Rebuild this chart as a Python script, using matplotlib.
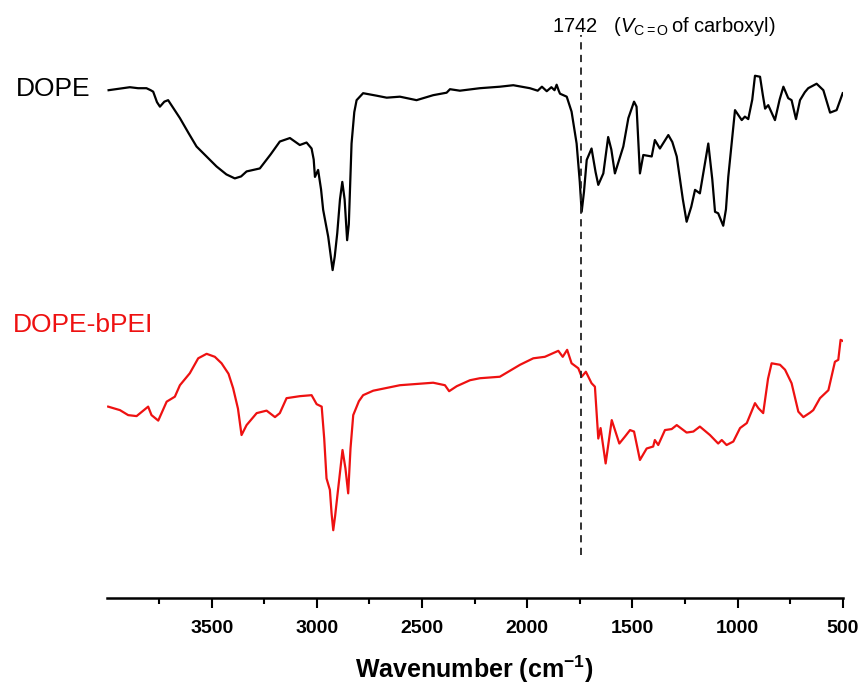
import matplotlib
matplotlib.use('Agg')
from matplotlib import pyplot as plt

plt.rcParams['font.family'] = ['Liberation Sans', 'DejaVu Sans']
plt.rcParams['mathtext.fontset'] = 'custom'
plt.rcParams['mathtext.rm'] = 'Liberation Sans'
plt.rcParams['mathtext.it'] = 'Liberation Sans:italic'
plt.rcParams['mathtext.bf'] = 'Liberation Sans:bold'

# DOPE spectrum (wavenumber, transmittance a.u. with offset)
wn_dope = [3990, 3940, 3889, 3850, 3810, 3790, 3778, 3760, 3746, 3725, 3707, 3690, 3651,
           3610, 3572, 3520, 3477, 3430, 3390, 3360, 3334, 3271, 3220,
           3176, 3128, 3081, 3049, 3025, 3015, 3009, 2994, 2980, 2970, 2946, 2935, 2925, 2915, 2903,
           2890, 2879, 2868, 2856, 2848, 2835, 2822, 2811, 2780, 2716, 2668, 2605, 2526, 2447, 2383,
           2367, 2320, 2225, 2130, 2066, 1987, 1950, 1930, 1907, 1885, 1870, 1860, 1850, 1844,
           1812, 1789, 1765, 1750, 1741, 1730, 1717, 1694, 1675, 1662, 1638, 1615, 1600, 1583, 1543,
           1519, 1492, 1480, 1464, 1448, 1408, 1393, 1369, 1329, 1310, 1289, 1260, 1242, 1220, 1202,
           1179, 1160, 1139, 1120, 1107, 1092, 1068, 1055, 1044, 1012, 980, 965, 949, 930, 917, 893, 880,
           869, 854, 822, 800, 782, 759, 743, 722, 703, 680, 664, 624, 592, 560, 529, 500]
t_dope = [101.9, 102.2, 102.5, 102.3, 102.3, 101.9, 101.6, 99.5, 98.6, 99.6, 99.9, 98.8, 96.3,
          93.3, 90.6, 88.4, 86.6, 85.0, 84.2, 84.6, 85.6, 86.2, 89.0,
          91.6, 92.3, 90.9, 91.4, 90.2, 88.0, 84.5, 85.9, 82.0, 77.9, 72.5, 69.0, 65.8, 68.5, 73.2,
          80.0, 83.5, 80.0, 71.8, 75.0, 91.2, 97.5, 99.9, 101.3, 100.8, 100.4, 100.6, 99.9, 100.9, 101.4,
          102.1, 101.8, 102.3, 102.6, 102.9, 102.3, 101.8, 102.6, 101.7, 102.5, 101.9, 103.0, 101.8, 101.2,
          100.6, 97.6, 91.2, 83.5, 77.5, 81.5, 87.9, 90.2, 85.5, 82.9, 85.2, 92.5, 90.0, 85.2, 90.6,
          96.3, 99.6, 98.6, 85.2, 88.9, 88.6, 91.9, 90.2, 92.9, 91.5, 88.6, 80.0, 75.5, 78.5, 81.9,
          81.2, 86.0, 91.2, 84.0, 77.5, 77.2, 74.7, 78.0, 84.5, 97.9, 95.9, 96.6, 96.1, 100.0, 104.8, 104.6, 101.0,
          98.2, 98.9, 95.9, 100.0, 102.6, 100.3, 99.9, 96.1, 99.9, 101.5, 102.3, 103.2, 101.9, 97.4, 97.9, 101.3]

# DOPE-bPEI spectrum
wn_bpei = [3992, 3936, 3897, 3857, 3802, 3786, 3754, 3714, 3675, 3651, 3604, 3564,
           3524, 3485, 3453, 3420, 3398, 3375, 3358, 3334, 3286, 3239, 3199, 3176, 3144, 3081,
           3025, 3001, 2977, 2965, 2954, 2938, 2930, 2922, 2913, 2903, 2878, 2864, 2851, 2840, 2827,
           2800, 2780, 2732, 2605, 2447, 2391, 2371, 2335, 2272, 2225, 2130, 2034, 1971, 1916, 1884,
           1852, 1831, 1810, 1789, 1757, 1741, 1721, 1694, 1678, 1662, 1651, 1627,
           1598, 1562, 1535, 1511, 1492, 1464, 1432, 1401, 1393, 1377, 1345, 1313,
           1289, 1242, 1210, 1179, 1131, 1092, 1075, 1052, 1020, 988, 956, 917,
           901, 878, 855, 838, 798, 774, 743, 711, 687, 655, 640, 608, 568, 537, 521, 510, 500]
t_bpei = [38.4, 37.7, 36.7, 36.5, 38.4, 36.7, 35.6, 39.4, 40.4, 42.7, 45.1, 48.1,
          49.0, 48.4, 47.1, 45.0, 42.1, 38.0, 32.7, 34.7, 37.1, 37.6, 36.3, 37.1, 40.1, 40.5,
          40.7, 38.9, 38.4, 32.0, 24.0, 21.7, 17.0, 13.6, 16.5, 20.3, 29.7, 26.0, 21.0, 30.0, 36.7,
          39.5, 40.7, 41.6, 42.7, 43.2, 42.7, 41.5, 42.5, 43.7, 44.1, 44.4, 46.8, 48.1, 48.4, 49.0,
          49.6, 48.4, 49.8, 47.1, 46.1, 44.4, 45.4, 43.1, 42.4, 32.0, 34.1, 27.0,
          35.7, 31.0, 32.4, 33.7, 33.4, 27.7, 30.0, 30.4, 31.7, 30.7, 33.7, 33.9,
          34.7, 33.2, 33.4, 34.4, 32.7, 31.0, 31.7, 30.7, 31.4, 34.1, 35.1, 39.1,
          38.1, 37.1, 44.0, 47.1, 46.8, 45.8, 43.1, 37.4, 36.3, 37.2, 37.7, 40.1, 41.7, 47.4, 47.8, 51.8, 51.6]

fig = plt.figure(figsize=(8.67, 6.93), dpi=100)
ax = fig.add_axes([106.5 / 867, 1 - 598 / 693, 736.2 / 867, 598 / 693])

ax.plot(wn_dope, t_dope, color='black', lw=1.6, solid_joinstyle='round')
ax.plot(wn_bpei, t_bpei, color='#ee1111', lw=1.6, solid_joinstyle='round')
ax.plot([1742, 1742], [8.6, 113], color='#222222', lw=1.3, linestyle=(0, (4, 3)))

ax.set_xlim(4000, 500)
ax.set_ylim(0, 120)
ax.set_xticks([3500, 3000, 2500, 2000, 1500, 1000, 500])
ax.set_xticks([3750, 3250, 2750, 2250, 1750, 1250, 750], minor=True)
ax.set_yticks([])
for s in ['left', 'right', 'top']:
    ax.spines[s].set_visible(False)
ax.spines['bottom'].set_linewidth(1.8)
ax.tick_params(axis='x', which='major', length=7.5, width=1.5, pad=8, labelsize=14)
ax.tick_params(axis='x', which='minor', length=4, width=1.5)
for lab in ax.get_xticklabels():
    lab.set_fontweight('bold')
ax.set_xlabel(r'Wavenumber (cm$^{\mathbf{-1}}$)', fontsize=18, fontweight='bold', labelpad=12)

fig.text(16 / 867, 1 - 89 / 693, 'DOPE', fontsize=19, color='black', va='center', ha='left')
fig.text(13 / 867, 1 - 325 / 693, 'DOPE-bPEI', fontsize=19, color='#ee1111', va='center', ha='left')
fig.text(552 / 867, 1 - 32 / 693, r'1742   ($V_{\mathrm{C{=}O}}\,$of carboxyl)', fontsize=14.5,
         va='baseline', ha='left')

plt.savefig('out.png', dpi=100)
